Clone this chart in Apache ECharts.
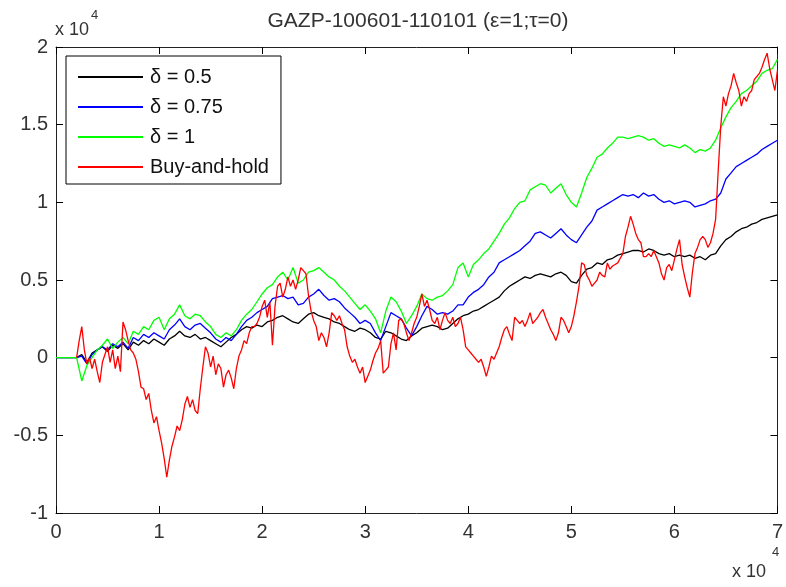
<!DOCTYPE html>
<html>
<head>
<meta charset="utf-8">
<script src="https://cdn.jsdelivr.net/npm/echarts@6/dist/echarts.min.js"></script>
<style>html,body{margin:0;padding:0;background:#fff}#c{width:786px;height:587px}</style>
</head>
<body>
<div id="c"></div>
<script>
// x positions (units of 10^4)
var xs = [];            // strategies: one every 0.05
for (var i = 0; i <= 140; i++) xs.push(+(i * 0.05).toFixed(3));
var redXs = [];         // buy-and-hold: one every 0.025 from 0.2
for (var j = 0; j < 273; j++) redXs.push(+(0.2 + j * 0.025).toFixed(3));

var seriesNames = ['δ = 0.5', 'δ = 0.75', 'δ = 1', 'Buy-and-hold'];
var xTicks = [0, 1, 2, 3, 4, 5, 6, 7];
var yTicks = [-1, -0.5, 0, 0.5, 1, 1.5, 2];

// values in units of 10^4
var delta05 = [
  0,0,0,0,0,0.02,-0.03,0.03,0.05,0.07,
  0.04,0.08,0.06,0.09,0.05,0.1,0.08,0.11,0.09,0.12,
  0.1,0.08,0.12,0.14,0.17,0.14,0.13,0.15,0.12,0.13,
  0.11,0.09,0.07,0.1,0.13,0.15,0.18,0.2,0.19,0.21,
  0.2,0.23,0.24,0.26,0.27,0.25,0.23,0.22,0.25,0.28,
  0.29,0.27,0.26,0.25,0.23,0.22,0.2,0.18,0.17,0.19,
  0.18,0.16,0.13,0.12,0.17,0.16,0.14,0.12,0.11,0.14,
  0.16,0.19,0.2,0.21,0.2,0.18,0.19,0.22,0.25,0.27,
  0.28,0.3,0.31,0.33,0.35,0.37,0.39,0.43,0.46,0.48,
  0.5,0.52,0.51,0.53,0.54,0.53,0.52,0.54,0.55,0.53,
  0.49,0.48,0.53,0.57,0.58,0.61,0.6,0.63,0.64,0.66,
  0.67,0.68,0.69,0.69,0.68,0.7,0.69,0.67,0.66,0.67,
  0.65,0.66,0.65,0.66,0.64,0.65,0.63,0.66,0.67,0.72,
  0.76,0.78,0.81,0.83,0.84,0.86,0.87,0.89,0.9,0.91,
  0.92
];
var delta075 = [
  0,0,0,0,0,0.01,-0.04,0.02,0.05,0.07,
  0.05,0.09,0.07,0.1,0.06,0.13,0.11,0.15,0.13,0.16,
  0.14,0.12,0.18,0.21,0.25,0.2,0.18,0.21,0.22,0.19,
  0.16,0.12,0.1,0.13,0.11,0.15,0.2,0.24,0.26,0.29,
  0.31,0.33,0.38,0.39,0.4,0.38,0.39,0.34,0.35,0.39,
  0.41,0.44,0.4,0.37,0.38,0.36,0.32,0.29,0.26,0.22,
  0.24,0.22,0.16,0.11,0.2,0.29,0.27,0.25,0.19,0.14,
  0.2,0.27,0.33,0.31,0.28,0.29,0.28,0.3,0.34,0.34,
  0.39,0.42,0.44,0.47,0.52,0.55,0.61,0.63,0.65,0.67,
  0.69,0.72,0.75,0.8,0.81,0.79,0.77,0.8,0.83,0.79,
  0.76,0.74,0.79,0.84,0.88,0.95,0.97,0.99,1.01,1.03,
  1.05,1.04,1.05,1.03,1.06,1.04,1.05,1.02,1.0,1.01,
  0.99,1.0,1.01,1.0,0.97,0.98,0.99,1.01,1.02,1.06,
  1.15,1.19,1.23,1.25,1.27,1.29,1.31,1.34,1.36,1.38,
  1.4
];
var delta1 = [
  0,0,0,0,0,-0.15,-0.05,0.0,0.05,0.08,
  0.12,0.06,0.1,0.13,0.09,0.17,0.15,0.2,0.18,0.24,
  0.26,0.18,0.25,0.28,0.34,0.27,0.25,0.28,0.27,0.23,
  0.2,0.15,0.13,0.16,0.14,0.18,0.24,0.28,0.31,0.36,
  0.41,0.45,0.47,0.52,0.55,0.5,0.58,0.48,0.5,0.55,
  0.56,0.58,0.55,0.52,0.5,0.46,0.43,0.39,0.35,0.31,
  0.34,0.3,0.25,0.16,0.3,0.39,0.36,0.3,0.22,0.27,
  0.33,0.41,0.38,0.37,0.39,0.4,0.43,0.47,0.58,0.61,
  0.52,0.6,0.63,0.67,0.7,0.75,0.8,0.86,0.9,0.96,
  1.0,1.01,1.08,1.1,1.12,1.11,1.06,1.09,1.12,1.05,
  1.0,0.97,1.06,1.16,1.22,1.29,1.31,1.35,1.38,1.42,
  1.42,1.41,1.42,1.43,1.42,1.4,1.41,1.38,1.36,1.37,
  1.36,1.35,1.37,1.35,1.32,1.34,1.33,1.35,1.4,1.48,
  1.55,1.61,1.65,1.7,1.72,1.75,1.78,1.83,1.85,1.86,
  1.92
];
var buyHold = [
  0.0,0.11,0.2,0.05,-0.04,0.0,-0.07,-0.01,-0.09,-0.16,
  -0.03,0.02,0.07,-0.03,0.05,-0.07,0.01,-0.09,0.23,0.18,
  0.11,0.05,0.03,-0.01,-0.09,-0.19,-0.2,-0.27,-0.23,-0.34,
  -0.42,-0.38,-0.47,-0.55,-0.65,-0.77,-0.66,-0.57,-0.51,-0.44,
  -0.47,-0.4,-0.3,-0.25,-0.32,-0.27,-0.34,-0.36,-0.2,-0.06,
  0.07,0.03,-0.06,0.01,-0.11,-0.04,-0.07,-0.19,-0.11,-0.08,
  -0.13,-0.2,-0.07,0.01,0.05,0.11,0.09,0.16,0.2,0.2,
  0.22,0.26,0.33,0.37,0.26,0.36,0.08,0.33,0.46,0.48,
  0.39,0.44,0.52,0.46,0.5,0.44,0.5,0.58,0.56,0.54,
  0.4,0.3,0.24,0.2,0.11,0.16,0.13,0.07,0.16,0.29,
  0.27,0.24,0.27,0.22,0.18,0.07,0.01,-0.03,-0.01,-0.06,
  -0.1,-0.06,-0.16,-0.12,-0.08,-0.02,0.03,0.06,0.11,-0.1,
  -0.08,-0.06,0.09,0.16,0.05,0.24,0.25,0.22,0.16,0.11,
  0.16,0.22,0.26,0.33,0.41,0.33,0.37,0.31,0.24,0.22,
  0.26,0.18,0.24,0.29,0.24,0.22,0.26,0.2,0.22,0.26,
  0.18,0.07,0.05,0.03,0.01,-0.01,-0.03,-0.01,-0.06,-0.12,
  -0.06,0.01,-0.01,0.03,0.07,0.13,0.18,0.2,0.15,0.11,
  0.26,0.24,0.22,0.24,0.2,0.24,0.29,0.22,0.24,0.26,
  0.29,0.31,0.26,0.22,0.18,0.15,0.11,0.16,0.26,0.24,
  0.2,0.16,0.2,0.27,0.36,0.46,0.61,0.6,0.53,0.5,
  0.46,0.48,0.5,0.55,0.53,0.52,0.61,0.57,0.59,0.6,
  0.61,0.64,0.67,0.78,0.84,0.91,0.86,0.8,0.76,0.74,
  0.65,0.65,0.67,0.65,0.69,0.65,0.61,0.54,0.5,0.58,
  0.6,0.56,0.63,0.7,0.76,0.6,0.52,0.45,0.39,0.55,
  0.67,0.71,0.76,0.78,0.76,0.71,0.74,0.8,0.89,1.2,
  1.49,1.68,1.62,1.7,1.75,1.83,1.77,1.72,1.62,1.68,
  1.65,1.7,1.72,1.79,1.81,1.83,1.87,1.92,1.96,1.86,
  1.79,1.72,1.85
];

var allValues = [delta05, delta075, delta1, buyHold];
var allXs = [xs, xs, xs, redXs];
var colors = ['#000000', '#0000ff', '#00ff00', '#ff0000'];

function pairs(xv, vals) {
  return vals.map(function (v, i) { return [xv[i], v]; });
}

var FONT = 'Liberation Sans, Arial, sans-serif';
var chart = echarts.init(document.getElementById('c'), null, { renderer: 'canvas' });

var series = allValues.map(function (vals, k) {
  return {
    name: seriesNames[k],
    type: 'line',
    data: pairs(allXs[k], vals),
    showSymbol: false,
    symbol: 'none',
    animation: false,
    lineStyle: { color: colors[k], width: 1.3 },
    itemStyle: { color: colors[k] }
  };
});

function axisCommon() {
  return {
    axisLine: { show: true, onZero: false, lineStyle: { color: '#222', width: 1 } },
    axisTick: { show: true, inside: true, length: 7, lineStyle: { color: '#000', width: 1 } },
    splitLine: { show: false }
  };
}

chart.setOption({
  animation: false,
  backgroundColor: '#fff',
  grid: { left: 56, right: 6, top: 47, bottom: 74, containLabel: false },
  xAxis: [
    Object.assign({
      type: 'value', min: 0, max: 7, interval: 1, position: 'bottom',
      axisLabel: { fontSize: 20, color: '#333', fontFamily: FONT, margin: 9,
        formatter: function (v) { return xTicks.indexOf(v) >= 0 ? String(v) : ''; } }
    }, axisCommon()),
    Object.assign({
      type: 'value', min: 0, max: 7, interval: 1, position: 'top',
      axisLabel: { show: false }
    }, axisCommon())
  ],
  yAxis: [
    Object.assign({
      type: 'value', min: -1, max: 2, interval: 0.5, position: 'left',
      axisLabel: { fontSize: 20, color: '#333', fontFamily: FONT, margin: 8,
        formatter: function (v) { return yTicks.indexOf(v) >= 0 ? String(v) : ''; } }
    }, axisCommon()),
    Object.assign({
      type: 'value', min: -1, max: 2, interval: 0.5, position: 'right',
      axisLabel: { show: false }
    }, axisCommon())
  ],
  legend: {
    orient: 'vertical',
    left: 66, top: 56,
    padding: [11, 12, 7, 12],
    itemWidth: 65, itemHeight: 2, itemGap: 10,
    backgroundColor: '#fff',
    borderColor: '#000', borderWidth: 1,
    textStyle: { fontSize: 20, lineHeight: 20, color: '#111', fontFamily: FONT, padding: [0, 0, 0, 2] },
    data: seriesNames.map(function (n) { return { name: n, icon: 'rect' }; })
  },
  graphic: [
    { type: 'text', x: 418, y: 11,
      style: { text: 'GAZP-100601-110101 (ε=1;τ=0)', font: '21px ' + FONT, fill: '#333', textAlign: 'center' } },
    { type: 'text', left: 55, top: 21, style: { text: 'x 10', font: '18px ' + FONT, fill: '#333' } },
    { type: 'text', left: 91, top: 9, style: { text: '4', font: '13px ' + FONT, fill: '#333' } },
    { type: 'text', left: 732, top: 563, style: { text: 'x 10', font: '18px ' + FONT, fill: '#333' } },
    { type: 'text', left: 772, top: 546, style: { text: '4', font: '13px ' + FONT, fill: '#333' } }
  ],
  series: series
});
</script>
</body>
</html>
